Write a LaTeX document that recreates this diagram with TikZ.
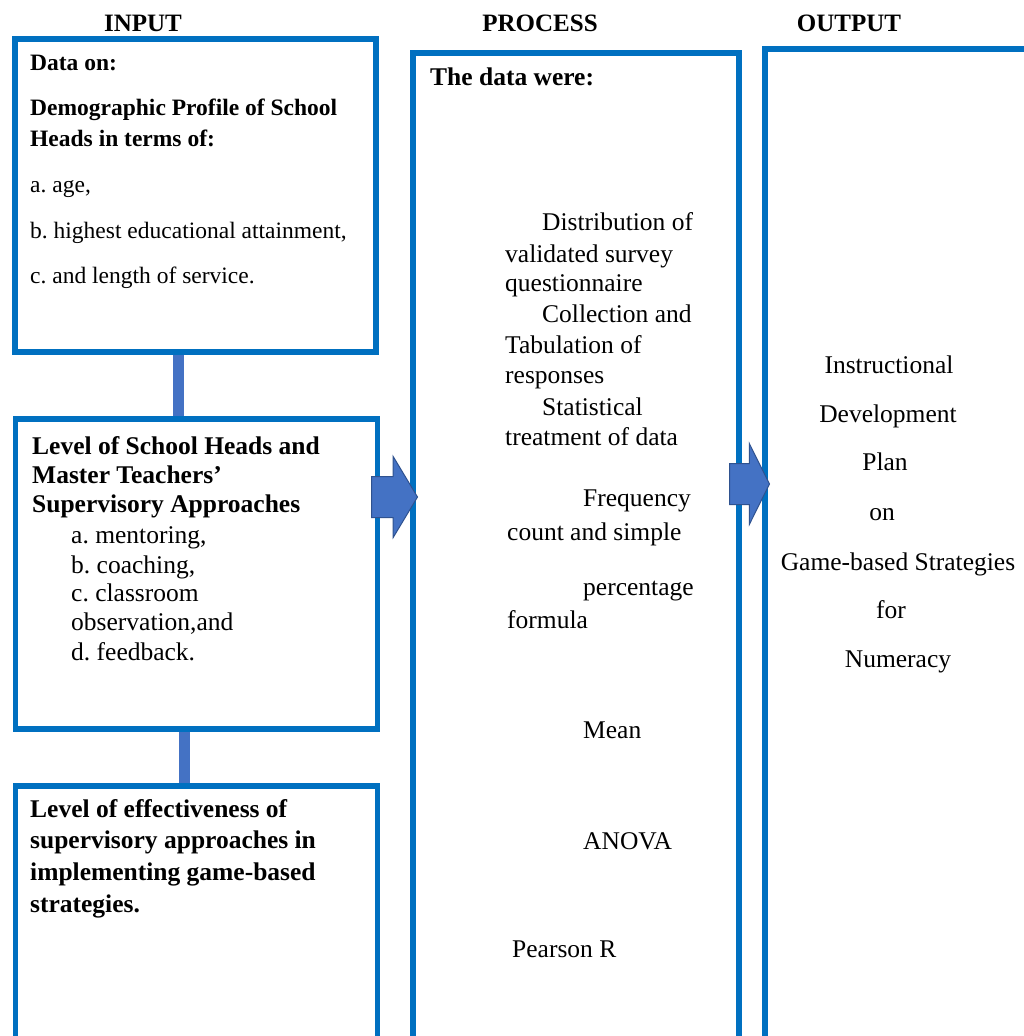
\documentclass[tikz,border=0pt]{standalone}
\usepackage{fontspec}
\setmainfont{Liberation Serif}
\usetikzlibrary{shapes.arrows}
\definecolor{boxblue}{HTML}{0070C0}
\definecolor{linkblue}{HTML}{4472C4}
\definecolor{arrowedge}{HTML}{2F528F}
\frenchspacing
\newcommand{\bodyfont}{\fontsize{25.5}{30}\selectfont}
\newcommand{\smallbody}{\fontsize{23.5}{28}\selectfont}
\tikzset{
  stage/.style   = {draw=boxblue, line width=5.5pt, inner sep=0pt, anchor=north west},
  colhead/.style = {font=\fontsize{25}{30}\selectfont\bfseries, anchor=base, inner sep=0pt},
  txt/.style     = {font=\bodyfont, anchor=base west, inner sep=0pt},
  txtb/.style    = {txt, font=\bodyfont\bfseries},
  txtc/.style    = {txt, anchor=base},
  link/.style    = {draw=linkblue, line width=11pt},
  % block arrow: shaft 40 high, head 80 high
  flow/.style    = {single arrow, draw=arrowedge, fill=linkblue, line width=1pt,
                    inner xsep=0pt, inner ysep=20pt, single arrow head extend=20pt,
                    anchor=tail},
}

\begin{document}
\begin{tikzpicture}[x=1pt, y=-1pt]
\useasboundingbox (0,0) rectangle (1024,1036);
\clip (0,0) rectangle (1024,1036);

% column heads
\node[colhead] (hin)   at (143,31) {INPUT};
\node[colhead] (hproc) at (540,31) {PROCESS};
\node[colhead] (hout)  at (849,31) {OUTPUT};

% boxes
\node[stage, minimum width=361pt, minimum height=313pt]  (in1)  at (12,36)   {};
\node[stage, minimum width=362pt, minimum height=310pt]  (in2)  at (12.5,416) {};
\node[stage, minimum width=362pt, minimum height=280pt]  (in3)  at (12.5,783) {};
\node[stage, minimum width=326pt, minimum height=1010pt] (proc) at (410,50)  {};
\node[stage, minimum width=280pt, minimum height=1010pt] (outp) at (762,46)  {};

\draw[link] ([xshift=-17pt]in1.south) coordinate (l1) -- (l1 |- in2.north);
\draw[link] ([xshift=-12pt]in2.south) coordinate (l2) -- (l2 |- in3.north);

\node[flow, minimum height=46pt, single arrow tip angle=118] (go1) at (371,497) {};
\node[flow, minimum height=40pt, single arrow tip angle=127] (go2) at (729,484) {};

% input texts
\foreach \y/\t [count=\i] in {70/{Data on:}, 115/{Demographic Profile of School},
    146/{Heads in terms of:}}
  \node[txtb, font=\smallbody\bfseries] (dem\i) at (30,\y) {\t};
\foreach \y/\t [count=\i from 4] in {192/{a. age,}, 238/{b. highest educational attainment,},
    283/{c. and length of service.}}
  \node[txt, font=\smallbody] (dem\i) at (30,\y) {\t};

\foreach \y/\t [count=\i] in {454/{Level of School Heads and}, 483/{Master Teachers’},
    512/{Supervisory Approaches}}
  \node[txtb] (lvl\i) at (32,\y) {\t};
\foreach \y/\t [count=\i from 4] in {543/{a. mentoring,}, 573/{b. coaching,},
    601/{c. classroom}, 630/{observation,and}, 660/{d. feedback.}}
  \node[txt] (lvl\i) at (71,\y) {\t};

\foreach \y/\t [count=\i] in {817/{Level of effectiveness of}, 848/{supervisory approaches in},
    880/{implementing game-based}, 912/{strategies.}}
  \node[txtb] (eff\i) at (30,\y) {\t};

% process texts
\node[txtb] (prc0) at (430,85) {The data were:};
\foreach \x/\y/\t [count=\i] in {542/230/{Distribution of}, 505/262/{validated survey},
    505/291/{questionnaire}, 542/322/{Collection and}, 505/353/{Tabulation of},
    505/383/{responses}, 542/415/{Statistical}, 505/445/{treatment of data},
    583/506/{Frequency}, 507/540/{count and simple}, 583/595/{percentage},
    507/628/{formula}, 583/738/{Mean}, 583/849/{ANOVA}, 512/957/{Pearson R}}
  \node[txt] (prc\i) at (\x,\y) {\t};

% output texts
\foreach \x/\y/\t [count=\i] in {889/373/{Instructional}, 888/422/{Development},
    885/470/{Plan}, 882/520/{on}, 898/570/{Game-based Strategies}, 891/618/{for},
    898/667/{Numeracy}}
  \node[txtc] (res\i) at (\x,\y) {\t};
\end{tikzpicture}
\end{document}
